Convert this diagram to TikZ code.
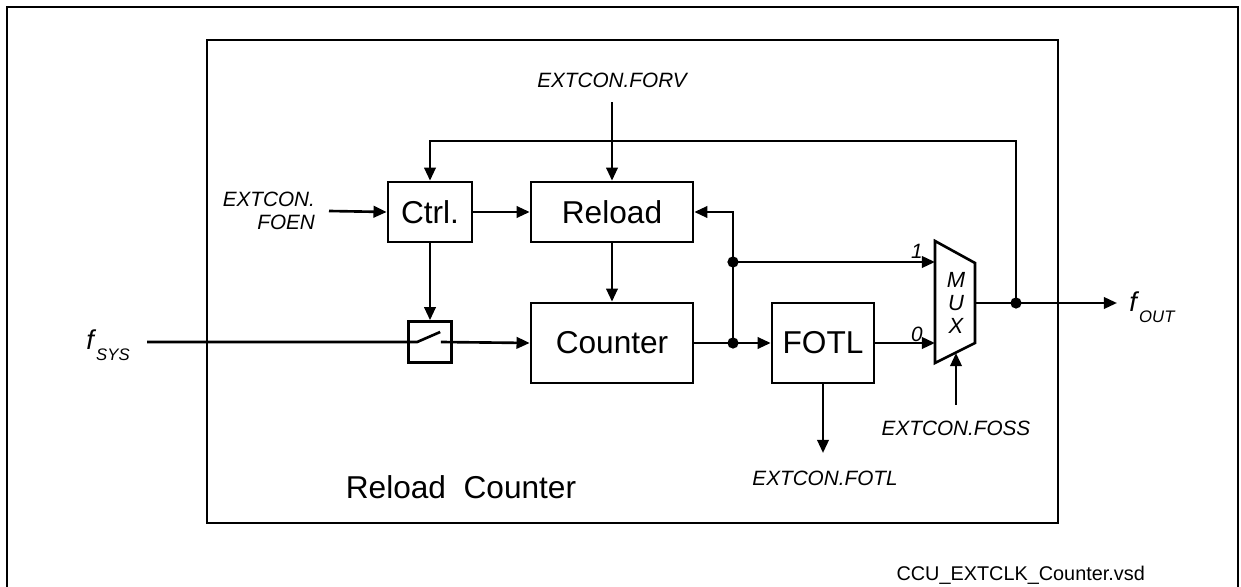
\documentclass[tikz,border=0pt]{standalone}
\usepackage{fontspec}
\setmainfont{Liberation Sans}
\usetikzlibrary{arrows.meta,positioning}
\tikzset{
  blk/.style={draw, line width=1.5pt, inner sep=0pt, font=\fontsize{18}{21}\selectfont},
  sig/.style={inner sep=1pt, font=\itshape\fontsize{11.8}{13}\selectfont},
  arr/.style={-{Triangle[length=7.5pt,width=6.5pt]}}
}
\newcommand{\fsig}[1]{\textit{f}\raisebox{-6pt}{\fontsize{9.5}{11}\selectfont\itshape #1}}

\begin{document}
\begin{tikzpicture}[x=0.02cm, y=-0.02cm, line width=1.5pt]
    \useasboundingbox (0,0) rectangle (1241,587);
    % --- frames ---
    \draw[line width=1.1pt] (7,587) -- (7,7) -- (1238,7) -- (1238,587);
    \draw (207,40) rectangle (1058,523);
    \node[font=\fontsize{18}{21}\selectfont] (title) at (461,487) {Reload\ \ Counter};
    \node[anchor=east, font=\fontsize{11.3}{13}\selectfont] (file) at (1152,575) {CCU\_EXTCLK\_Counter.vsd};

    % --- blocks ---
    \node[blk, minimum width=1.68cm, minimum height=1.2cm] (ctrl) at (430,212) {Ctrl.};
    \node[blk, minimum width=3.24cm, minimum height=1.2cm] (reload) at (612,212) {Reload};
    \node[blk, minimum width=3.24cm, minimum height=1.6cm] (counter) at (612,343) {Counter};
    \node[blk, minimum width=2.04cm, minimum height=1.6cm] (fotl) at (823,343) {FOTL};
    \node[draw, minimum width=0.86cm, minimum height=0.82cm, inner sep=0pt] (sw) at (430,342) {};

    % --- mux ---
    \draw (935,241) -- (975,263) -- (975,343) -- (935,363) -- cycle;
    \coordinate (mux1) at (935,262);
    \coordinate (mux0) at (935,343);
    \coordinate (muxo) at (975,303);
    \coordinate (muxs) at (956,353);
    \foreach \c/\y in {M/280,U/303,X/326}
        \node[sig, font=\itshape\fontsize{12.5}{14}\selectfont] (mux\c) at (956,\y) {\c};
    \node[sig] (in1) at (917,251) {1};
    \node[sig] (in0) at (917,334) {0};

    % --- signals ---
    \node[sig] (forv) at (612,80) {EXTCON.FORV};
    \node[sig, anchor=east, align=right] (foen) at (318,211) {EXTCON.\\FOEN};
    \node[sig] (foss) at (956,428) {EXTCON.FOSS};
    \node[sig] (fotlout) at (825,478) {EXTCON.FOTL};
    \node[anchor=base west, inner sep=0pt, font=\fontsize{15.5}{18}\selectfont] (fsys) at (85,350) {\fsig{SYS}};
    \node[anchor=base west, inner sep=0pt, font=\fontsize{15.5}{18}\selectfont] (fout) at (1128,312) {\fsig{OUT}};

    \coordinate (fin) at (147,342);
    \coordinate (fb) at (1016,141);
    \coordinate (jout) at (1016,303);
    \coordinate (jc) at (733,343);
    \coordinate (jm) at (733,262);
    \coordinate (outend) at (1117,303);
    \coordinate (fossin) at (956,405);
    \coordinate (fotlend) at (823,453);

    % --- connections ---
    \draw[arr] ([yshift=-0.24cm]forv.south) -- (reload.north);
    \draw[arr] (jout) -- (fb) -| (ctrl.north);
    \draw[arr] ([xshift=0.22cm]foen.east) -- (ctrl.west);
    \draw[arr] (ctrl) -- (reload);
    \draw[arr] (ctrl) -- (sw);
    \draw[arr] (reload) -- (counter);
    \draw (fin) -- (sw.west) -- ++(10,0) -- ++(23,-10);
    \draw[arr] ([xshift=-0.24cm]sw.east) -- (counter.west);
    \draw (counter.east) -- (jc);
    \draw[arr] (jc) -- (fotl.west);
    \draw[arr] (jc) |- (reload.east);
    \draw[arr] (jm) -- (mux1);
    \draw[arr] (fotl.east) -- (mux0);
    \draw[arr] (muxo) -- (outend);
    \draw[arr] (fossin) -- (muxs);
    \draw[arr] (fotl.south) -- (fotlend);
    \foreach \p in {jc,jm,jout}
        \fill (\p) circle (3.2pt);
\end{tikzpicture}
\end{document}
